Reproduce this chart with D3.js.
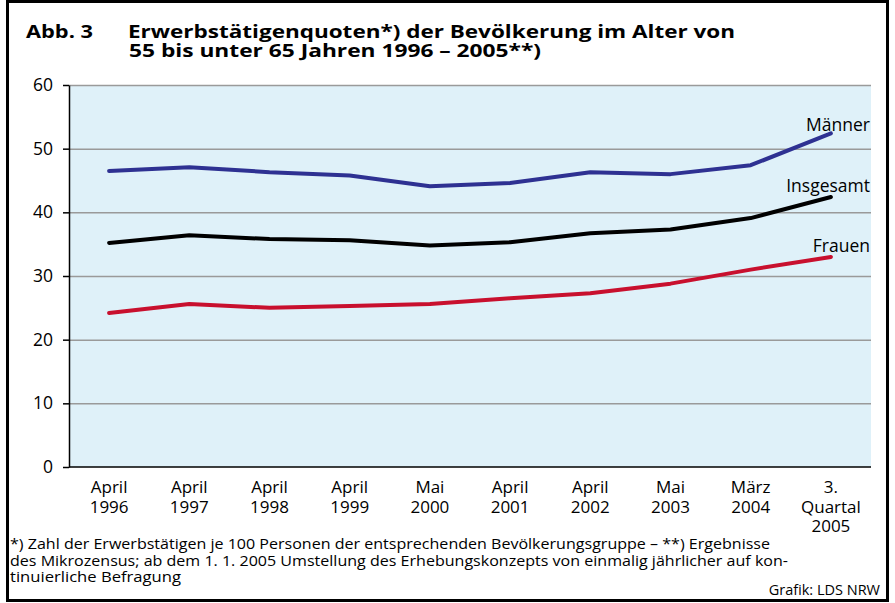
<!DOCTYPE html>
<meta charset="utf-8">
<style>
  body { margin: 0; background: #fff; }
  svg text { font-family: "Open Sans", "Noto Sans", sans-serif; fill: #000; }
  .grid line { stroke: #9a9a9a; stroke-width: 1.5; }
  .grid path { display: none; }
  .axis path, .axis line { stroke: #000; stroke-width: 1.5; }
</style>
<body>
<script src="https://d3js.org/d3.v7.min.js"></script>
<script>

// data
var categories = ["1996", "1997", "1998", "1999", "2000", "2001", "2002", "2003", "2004", "2005"];
var categoryLabels = [
  ["April", "1996"], ["April", "1997"], ["April", "1998"], ["April", "1999"], ["Mai", "2000"],
  ["April", "2001"], ["April", "2002"], ["Mai", "2003"], ["März", "2004"], ["3.", "Quartal", "2005"]
];
var maenner   = [46.5, 47.1, 46.3, 45.8, 44.1, 44.6, 46.3, 46.0, 47.4, 52.4];
var insgesamt = [35.2, 36.4, 35.8, 35.6, 34.8, 35.3, 36.7, 37.3, 39.1, 42.4];
var frauen    = [24.2, 25.6, 25.0, 25.3, 25.6, 26.5, 27.3, 28.8, 31.0, 33.0];
var yTicks = [0, 10, 20, 30, 40, 50, 60];

var W = 895, H = 603;
var plot = {left: 69, right: 871, top: 85, bottom: 467};

var svg = d3.select("body").append("svg")
    .attr("width", W)
    .attr("height", H);

// outer frame
svg.append("rect")
    .attr("x", 7.5).attr("y", 1.5)
    .attr("width", 880).attr("height", 599)
    .attr("fill", "#fff")
    .attr("stroke", "#000")
    .attr("stroke-width", 3);

// title
svg.append("text").attr("x", 26).attr("y", 38)
    .attr("font-size", 18.5).attr("font-weight", "bold")
    .attr("textLength", 67).attr("lengthAdjust", "spacingAndGlyphs")
    .text("Abb. 3");
svg.append("text").attr("x", 128).attr("y", 38)
    .attr("font-size", 18.5).attr("font-weight", "bold")
    .attr("textLength", 607).attr("lengthAdjust", "spacingAndGlyphs")
    .text("Erwerbstätigenquoten*) der Bevölkerung im Alter von");
svg.append("text").attr("x", 129).attr("y", 57)
    .attr("font-size", 18.5).attr("font-weight", "bold")
    .attr("textLength", 412).attr("lengthAdjust", "spacingAndGlyphs")
    .text("55 bis unter 65 Jahren 1996 – 2005**)");

var x = d3.scaleBand()
    .domain(categories)
    .range([plot.left, plot.right]);

var y = d3.scaleLinear()
    .domain([0, 60])
    .range([plot.bottom, plot.top]);

// plot background
svg.append("rect")
    .attr("x", plot.left).attr("y", plot.top)
    .attr("width", plot.right - plot.left)
    .attr("height", plot.bottom - plot.top)
    .attr("fill", "#dff1f9");

// horizontal grid lines
svg.append("g")
    .attr("class", "grid")
    .attr("transform", "translate(" + plot.left + ",0)")
    .call(d3.axisLeft(y).tickValues(yTicks.slice(1)).tickSize(-(plot.right - plot.left)).tickFormat(""));

// y axis
var yAxis = svg.append("g")
    .attr("class", "axis")
    .attr("transform", "translate(" + plot.left + ",0)")
    .call(d3.axisLeft(y).tickValues(yTicks).tickSize(6).tickPadding(10).tickSizeOuter(0));
yAxis.selectAll("text").attr("font-size", 17.5).attr("font-family", null);

// x axis
var xAxis = svg.append("g")
    .attr("class", "axis")
    .attr("transform", "translate(0," + plot.bottom + ")")
    .call(d3.axisBottom(x).tickSize(0).tickSizeOuter(0).tickFormat(""));
xAxis.select("path").attr("d", "M" + plot.left + ",0H" + plot.right);

xAxis.selectAll(".tick").each(function(d, i) {
  var t = d3.select(this).append("text")
      .attr("text-anchor", "middle")
      .attr("font-size", 17);
  categoryLabels[i].forEach(function(s, j) {
    t.append("tspan").attr("x", 0).attr("y", 26 + j * 19.5).text(s);
  });
});

// lines
var series = [
  {name: "Männer", values: maenner, color: "#2e3192", labelY: 131},
  {name: "Insgesamt", values: insgesamt, color: "#000000", labelY: 192},
  {name: "Frauen", values: frauen, color: "#c8102e", labelY: 252}
];

var line = d3.line()
    .x(function(d, i) { return x(categories[i]) + x.bandwidth() / 2; })
    .y(function(d) { return y(d); });

svg.selectAll("path.series")
    .data(series)
    .enter().append("path")
    .attr("class", "series")
    .attr("d", function(s) { return line(s.values); })
    .attr("fill", "none")
    .attr("stroke", function(s) { return s.color; })
    .attr("stroke-width", 4)
    .attr("stroke-linecap", "round")
    .attr("stroke-linejoin", "round");

svg.selectAll("text.serieslabel")
    .data(series)
    .enter().append("text")
    .attr("class", "serieslabel")
    .attr("x", plot.right - 1)
    .attr("y", function(s) { return s.labelY; })
    .attr("text-anchor", "end")
    .attr("font-size", 17.5)
    .text(function(s) { return s.name; });

// footnote
var notes = [
  {t: "*) Zahl der Erwerbstätigen je 100 Personen der entsprechenden Bevölkerungsgruppe – **) Ergebnisse", w: 760, y: 549},
  {t: "des Mikrozensus; ab dem 1. 1. 2005 Umstellung des Erhebungskonzepts von einmalig jährlicher auf kon-", w: 778, y: 566},
  {t: "tinuierliche Befragung", w: 171, y: 582}
];
notes.forEach(function(n) {
  svg.append("text")
      .attr("x", 10).attr("y", n.y)
      .attr("font-size", 14.5)
      .attr("textLength", n.w).attr("lengthAdjust", "spacingAndGlyphs")
      .text(n.t);
});

svg.append("text")
    .attr("x", 880).attr("y", 595)
    .attr("text-anchor", "end")
    .attr("font-size", 14.5)
    .text("Grafik: LDS NRW");

</script>
</body>
